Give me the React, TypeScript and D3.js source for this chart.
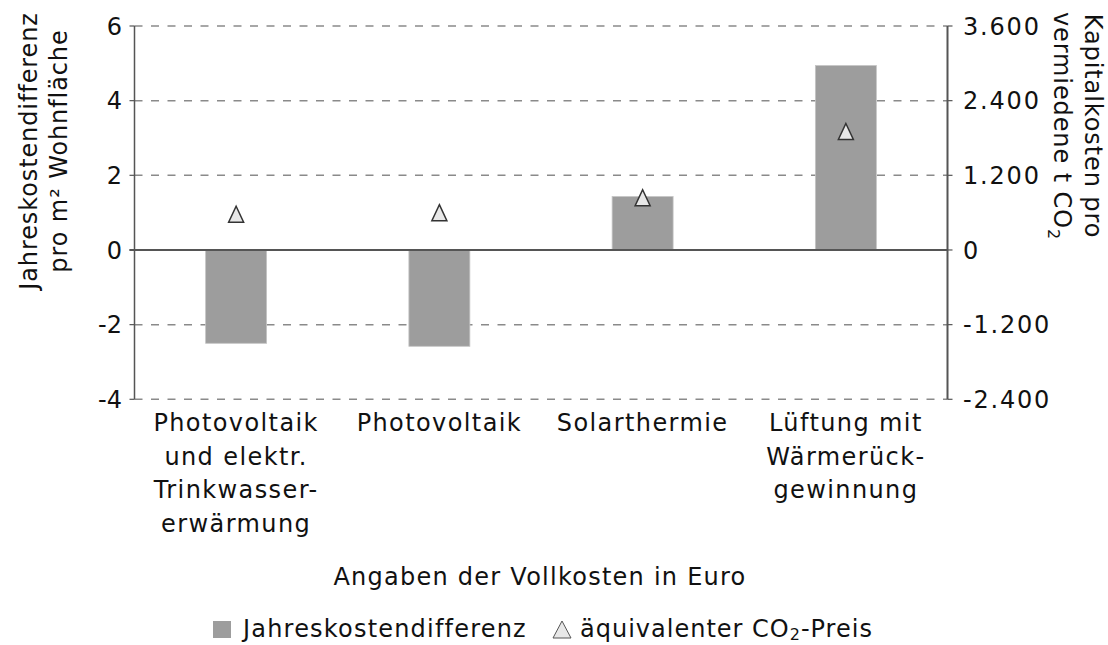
import React from "react";
import * as d3 from "d3";

const categories: string[][] = [
  ["Photovoltaik", "und elektr.", "Trinkwasser-", "erwärmung"],
  ["Photovoltaik"],
  ["Solarthermie"],
  ["Lüftung mit", "Wärmerück-", "gewinnung"],
];
const jahreskosten = [-2.5, -2.58, 1.43, 4.94];
const co2Preis = [575, 600, 840, 1905];
const leftTicks = [-4, -2, 0, 2, 4, 6];
const rightTicks = [-2400, -1200, 0, 1200, 2400, 3600];

const W = 1108;
const H = 645;
const FONT = "'DejaVu Sans', sans-serif";

const deFormat = d3
  .formatLocale({ decimal: ",", thousands: ".", grouping: [3], currency: ["", " €"], minus: "-" })
  .format(",");

const triPath = (cx: number, cy: number, hw = 7.5, hh = 8) =>
  `M${cx},${cy - hh}L${cx + hw},${cy + hh}L${cx - hw},${cy + hh}Z`;

export default function App() {
  const left = 134.5;
  const right = 947.5;
  const top = 26;
  const bottom = 399.3;

  const x = d3
    .scaleBand<number>()
    .domain(categories.map((_, i) => i))
    .range([left, right])
    .paddingInner(0)
    .paddingOuter(0);
  const y = d3.scaleLinear().domain([-4, 6]).range([bottom, top]);
  const y2 = d3.scaleLinear().domain([-2400, 3600]).range([bottom, top]);
  const barW = x.bandwidth() * 0.3;

  return (
    <svg
      width={W}
      height={H}
      style={{ position: "absolute", left: 0, top: 0, background: "#fff" }}
      fontFamily={FONT}
    >
      {/* grid */}
      {leftTicks
        .filter((t) => t !== 0)
        .map((t) => (
          <line
            key={"g" + t}
            x1={left}
            x2={right}
            y1={y(t)}
            y2={y(t)}
            stroke="#8a8a8a"
            strokeWidth={1.5}
            strokeDasharray="8,8.5"
          />
        ))}

      {/* bars */}
      {jahreskosten.map((v, i) => (
        <rect
          key={"b" + i}
          x={x(i)! + x.bandwidth() / 2 - barW / 2}
          y={y(Math.max(0, v))}
          width={barW}
          height={Math.abs(y(v) - y(0))}
          fill="#9d9d9d"
          stroke="#c4c4c4"
          strokeWidth={0.8}
        />
      ))}

      {/* zero line */}
      <line x1={left - 5} x2={right} y1={y(0)} y2={y(0)} stroke="#555" strokeWidth={2} />

      {/* axes */}
      <line x1={left} x2={left} y1={top} y2={bottom} stroke="#555" strokeWidth={1.5} />
      <line x1={right} x2={right} y1={top} y2={bottom} stroke="#555" strokeWidth={2} />
      {leftTicks.map((t) => (
        <g key={"lt" + t}>
          <line x1={left - 5} x2={left} y1={y(t)} y2={y(t)} stroke="#555" strokeWidth={1.2} />
          <text x={122} y={y(t)} dy="0.36em" textAnchor="end" fontSize={24} fill="#111">
            {String(t)}
          </text>
        </g>
      ))}
      {rightTicks.map((t) => (
        <g key={"rt" + t}>
          <line x1={right} x2={right + 5} y1={y2(t)} y2={y2(t)} stroke="#555" strokeWidth={1.2} />
          <text x={963} y={y2(t)} dy="0.36em" fontSize={24} fill="#111" letterSpacing={1.8}>
            {deFormat(t)}
          </text>
        </g>
      ))}

      {/* triangles */}
      {co2Preis.map((v, i) => (
        <path
          key={"t" + i}
          d={triPath(x(i)! + x.bandwidth() / 2, y2(v))}
          fill="#e8e8e8"
          stroke="#333"
          strokeWidth={1.5}
        />
      ))}

      {/* category labels */}
      {categories.map((lines, i) => (
        <text
          key={"c" + i}
          x={x(i)! + x.bandwidth() / 2}
          y={431}
          textAnchor="middle"
          fontSize={24}
          fill="#111"
          letterSpacing={1.4}
        >
          {lines.map((l, j) => (
            <tspan key={j} x={x(i)! + x.bandwidth() / 2} dy={j === 0 ? 0 : 33.7}>
              {l}
            </tspan>
          ))}
        </text>
      ))}

      {/* left axis title */}
      <text
        transform="translate(37,151) rotate(-90)"
        textAnchor="middle"
        fontSize={24}
        fill="#111"
        letterSpacing={0.9}
      >
        <tspan x={0} dy={0}>Jahreskostendifferenz</tspan>
        <tspan x={0} dy={30}>pro m² Wohnfläche</tspan>
      </text>

      {/* right axis title */}
      <text
        transform="translate(1085,126) rotate(90)"
        textAnchor="middle"
        fontSize={24}
        fill="#111"
        letterSpacing={0.9}
      >
        <tspan x={0} dy={0}>Kapitalkosten pro</tspan>
        <tspan x={0} dy={31}>
          vermiedene t CO
          <tspan fontSize={16} dy={6}>2</tspan>
        </tspan>
      </text>

      {/* x axis title */}
      <text x={540} y={585} textAnchor="middle" fontSize={24} fill="#111" letterSpacing={1.25}>
        Angaben der Vollkosten in Euro
      </text>

      {/* legend */}
      <rect x={213} y={621} width={18} height={17} fill="#9d9d9d" />
      <text x={243} y={637} fontSize={24} fill="#111" letterSpacing={1.2}>
        Jahreskostendifferenz
      </text>
      <path d={triPath(562, 629.5, 9, 8.5)} fill="#e8e8e8" stroke="#555" strokeWidth={1} />
      <text x={580} y={637} fontSize={24} fill="#111" letterSpacing={1}>
        äquivalenter CO
        <tspan fontSize={16} dy={3}>2</tspan>
        <tspan dy={-3}>-Preis</tspan>
      </text>
    </svg>
  );
}
